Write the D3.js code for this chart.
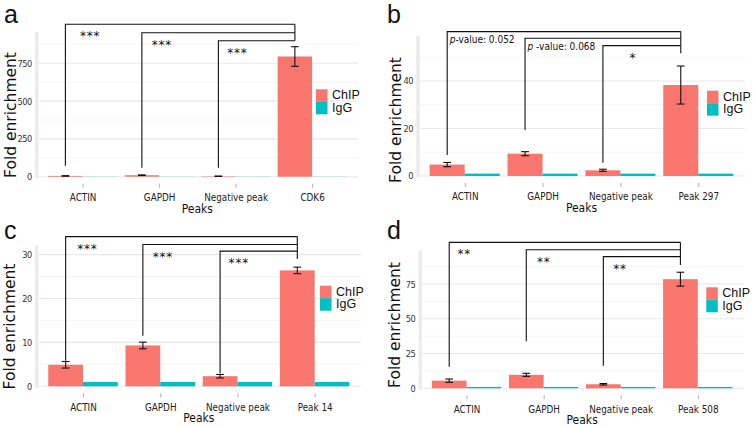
<!DOCTYPE html>
<html><head><meta charset="utf-8">
<script src="https://cdn.jsdelivr.net/npm/d3@7"></script>
<style>body{margin:0;background:#fff}svg{display:block}</style>
</head><body><svg id="chart" width="754" height="428"></svg>
<script>
// ---------- DATA ----------
const seriesNames = ["ChIP", "IgG"];

const categoriesA = ["ACTIN", "GAPDH", "Negative peak", "CDK6"];
const chipA = [5, 10, 3, 795];
const chipErrA = [1.5, 2, 1, 65];
const iggA = [1, 1, 1, 1];
const yMajorA = [0, 250, 500, 750];
const yMinorA = [125, 375, 625, 875];
const bracketLevelsA = [1008, 952, 899];
const bracketLeftEndsA = [73, 60, 60];
const bracketRightEndA = 899;
const bracketLabelsA = ["***", "***", "***"];

const categoriesB = ["ACTIN", "GAPDH", "Negative peak", "Peak 297"];
const chipB = [4.8, 9.4, 2.4, 38.3];
const chipErrB = [0.9, 0.85, 0.45, 8];
const iggB = [1, 1, 1, 1];
const yMajorB = [0, 20, 40];
const yMinorB = [10, 30, 50];
const bracketLevelsB = [60.8, 58.0, 54.9];
const bracketLeftEndsB = [8.8, 19.4, 5.6];
const bracketRightEndB = 51.7;
const bracketLabelsB = ["p-value: 0.052", "p -value: 0.068", "*"];

const categoriesC = ["ACTIN", "GAPDH", "Negative peak", "Peak 14"];
const chipC = [4.9, 9.3, 2.3, 26.4];
const chipErrC = [0.75, 0.75, 0.4, 0.75];
const iggC = [1, 1, 1, 1];
const yMajorC = [0, 10, 20, 30];
const yMinorC = [5, 15, 25];
const bracketLevelsC = [34.1, 32.3, 30.8];
const bracketLeftEndsC = [5.8, 11.5, 3.0];
const bracketRightEndC = 29.0;
const bracketLabelsC = ["***", "***", "***"];

const categoriesD = ["ACTIN", "GAPDH", "Negative peak", "Peak 508"];
const chipD = [5.5, 9.7, 2.9, 78.5];
const chipErrD = [1.2, 1.1, 0.5, 5];
const iggD = [1, 1, 1, 1];
const yMajorD = [0, 25, 50, 75];
const yMinorD = [12.5, 37.5, 62.5, 87.5];
const bracketLevelsD = [105, 99.7, 94.7];
const bracketLeftEndsD = [15.5, 33.8, 16.3];
const bracketRightEndD = 88.7;
const bracketLabelsD = ["**", "**", "**"];

// ---------- LAYOUT ----------
const COL_CHIP = "#F8766D", COL_IGG = "#00BFC4";
const TICK_FONT = "'DejaVu Sans Condensed','DejaVu Sans',sans-serif";

const panels = [
  {letter:"a", lx:4, ly:23, left:36.7, right:358, zeroY:176.7, yMax:957,
   cats:categoriesA, chip:chipA, err:chipErrA, igg:iggA, major:yMajorA, minor:yMinorA,
   levels:bracketLevelsA, leftEnds:bracketLeftEndsA, rightEnd:bracketRightEndA, labels:bracketLabelsA,
   labelDx:[24.7,20,19], ytx:10, yty:115, legX:316, legY:89.3},
  {letter:"b", lx:387, ly:23, left:418, right:745, zeroY:176, yMax:59,
   cats:categoriesB, chip:chipB, err:chipErrB, igg:iggB, major:yMajorB, minor:yMinorB,
   levels:bracketLevelsB, leftEnds:bracketLeftEndsB, rightEnd:bracketRightEndB, labels:bracketLabelsB,
   labelDx:[2.5,2.5,30], ytx:395, yty:120, legX:707, legY:90.7},
  {letter:"c", lx:4, ly:239, left:36.7, right:361, zeroY:386.3, yMax:32,
   cats:categoriesC, chip:chipC, err:chipErrC, igg:iggC, major:yMajorC, minor:yMinorC,
   levels:bracketLevelsC, leftEnds:bracketLeftEndsC, rightEnd:bracketRightEndC, labels:bracketLabelsC,
   labelDx:[21.7,20,18.7], ytx:9.5, yty:326.5, legX:320, legY:285.7},
  {letter:"d", lx:387, ly:239, left:420.3, right:744, zeroY:388.3, yMax:99,
   cats:categoriesD, chip:chipD, err:chipErrD, igg:iggD, major:yMajorD, minor:yMinorD,
   levels:bracketLevelsD, leftEnds:bracketLeftEndsD, rightEnd:bracketRightEndD, labels:bracketLabelsD,
   labelDx:[15,17.6,16.7], ytx:394, yty:325, legX:706.3, legY:287.3}
];
// pixel scale per unit (measured) to derive panel tops
const pxPerUnit = {a:0.1512, b:2.375, c:4.39, d:1.39};

const svg = d3.select("#chart");

panels.forEach(p => {
  const g = svg.append("g");
  const top = p.zeroY - p.yMax * pxPerUnit[p.letter];
  const x = d3.scalePoint().domain(p.cats).range([p.left, p.right]).padding(0.6);
  const step = x.step();
  const dodge = d3.scaleBand().domain(seriesNames).range([-0.45 * step, 0.45 * step]);
  const y = d3.scaleLinear().domain([0, p.yMax]).range([p.zeroY, top]);

  // grid
  g.selectAll(".minor").data(p.minor).join("line")
    .attr("x1", p.left).attr("x2", p.right)
    .attr("y1", d => y(d)).attr("y2", d => y(d))
    .attr("stroke", "#f2f2f2").attr("stroke-width", 0.8);
  g.selectAll(".major").data(p.major).join("line")
    .attr("x1", p.left).attr("x2", p.right)
    .attr("y1", d => y(d)).attr("y2", d => y(d))
    .attr("stroke", "#e8e8e8").attr("stroke-width", 1.1);
  // axis band
  g.append("line").attr("x1", p.left).attr("x2", p.left)
    .attr("y1", top).attr("y2", y(0) + 1.5)
    .attr("stroke", "#ebebeb").attr("stroke-width", 3.5);

  // bars
  const rows = p.cats.map((c, i) => ({cat: c, ChIP: p.chip[i], IgG: p.igg[i], err: p.err[i]}));
  seriesNames.forEach(s => {
    g.selectAll(".bar" + s).data(rows).join("rect")
      .attr("x", d => x(d.cat) + dodge(s))
      .attr("width", dodge.bandwidth())
      .attr("y", d => y(d[s]))
      .attr("height", d => y(0) - y(d[s]))
      .attr("fill", s === "ChIP" ? COL_CHIP : COL_IGG);
  });
  // error bars on ChIP
  const cx = d => x(d.cat) + dodge("ChIP") + dodge.bandwidth() / 2;
  const capW = 0.05 * step;
  const eb = g.selectAll(".eb").data(rows).join("g").attr("stroke", "#111").attr("stroke-width", 1.1);
  eb.append("line").attr("x1", cx).attr("x2", cx).attr("y1", d => y(d.ChIP - d.err)).attr("y2", d => y(d.ChIP + d.err));
  eb.append("line").attr("x1", d => cx(d) - capW).attr("x2", d => cx(d) + capW).attr("y1", d => y(d.ChIP - d.err)).attr("y2", d => y(d.ChIP - d.err));
  eb.append("line").attr("x1", d => cx(d) - capW).attr("x2", d => cx(d) + capW).attr("y1", d => y(d.ChIP + d.err)).attr("y2", d => y(d.ChIP + d.err));

  // brackets
  const rightX = cx(rows[3]);
  const br = p.levels.map((lv, i) => ({lv, i, lx: cx(rows[i]), le: p.leftEnds[i], label: p.labels[i]}));
  g.selectAll(".br").data(br).join("path")
    .attr("d", d => `M${d.lx},${y(d.le)}V${y(d.lv)}H${rightX}`)
    .attr("fill", "none").attr("stroke", "#111").attr("stroke-width", 1.1);
  g.append("line").attr("x1", rightX).attr("x2", rightX)
    .attr("y1", y(p.levels[0])).attr("y2", y(p.rightEnd))
    .attr("stroke", "#111").attr("stroke-width", 1.1);
  // bracket labels
  br.forEach(d => {
    const isP = d.label.indexOf("value") >= 0;
    const t = g.append("text").attr("fill", "#111");
    if (isP) {
      t.attr("x", d.lx + p.labelDx[d.i]).attr("y", y(d.lv) + 11.5)
        .attr("font-family", TICK_FONT).attr("font-size", 10).attr("text-anchor", "start");
      t.append("tspan").attr("font-style", "italic").text(d.label[0]);
      t.append("tspan").text(d.label.slice(1));
    } else {
      t.attr("x", d.lx + p.labelDx[d.i]).attr("y", y(d.lv) + 16)
        .attr("font-family", "'DejaVu Sans',sans-serif").attr("font-size", 12)
        .attr("letter-spacing", 0.8).attr("text-anchor", "middle").text(d.label);
    }
  });

  // y axis labels
  const ya = g.append("g").attr("transform", `translate(${p.left - 2},0)`)
    .call(d3.axisLeft(y).tickValues(p.major).tickSize(0).tickPadding(3).tickFormat(d3.format("d")));
  ya.select(".domain").remove();
  ya.selectAll("text").attr("font-family", TICK_FONT).attr("font-size", 9.2)
    .attr("letter-spacing", -0.5).attr("fill", "#333");

  // x axis
  const xa = g.append("g").attr("transform", `translate(0,${p.zeroY + 7})`)
    .call(d3.axisBottom(x).tickSize(4).tickPadding(6.4));
  xa.select(".domain").remove();
  xa.selectAll(".tick line").attr("stroke", "#b0b0b0");
  xa.selectAll("text").attr("font-family", TICK_FONT).attr("font-size", 9.8).attr("fill", "#222");

  // titles
  g.append("text").attr("x", (p.left + p.right) / 2).attr("y", p.zeroY + 36)
    .attr("text-anchor", "middle").attr("font-family", TICK_FONT).attr("font-size", 12).attr("fill", "#111").text("Peaks");
  g.append("text").attr("transform", `translate(${p.ytx + 5.5},${p.yty}) rotate(-90)`)
    .attr("text-anchor", "middle").attr("font-family", "'DejaVu Sans',sans-serif").attr("font-size", 15.5).attr("fill", "#111").text("Fold enrichment");
  g.append("text").attr("x", p.lx).attr("y", p.ly)
    .attr("font-family", "'Liberation Sans',Arial,sans-serif").attr("font-size", 25).attr("fill", "#111").text(p.letter);

  // legend
  const lg = g.append("g").attr("transform", `translate(${p.legX},${p.legY})`);
  seriesNames.forEach((s, i) => {
    lg.append("rect").attr("x", 0).attr("y", i * 12.5).attr("width", 11.5).attr("height", 12.5)
      .attr("fill", s === "ChIP" ? COL_CHIP : COL_IGG);
    lg.append("text").attr("x", 16).attr("y", i * 12.5 + 10)
      .attr("font-family", "'Liberation Sans',Arial,sans-serif").attr("font-size", 12.5).attr("fill", "#111").text(s);
  });
});
</script></body></html>
